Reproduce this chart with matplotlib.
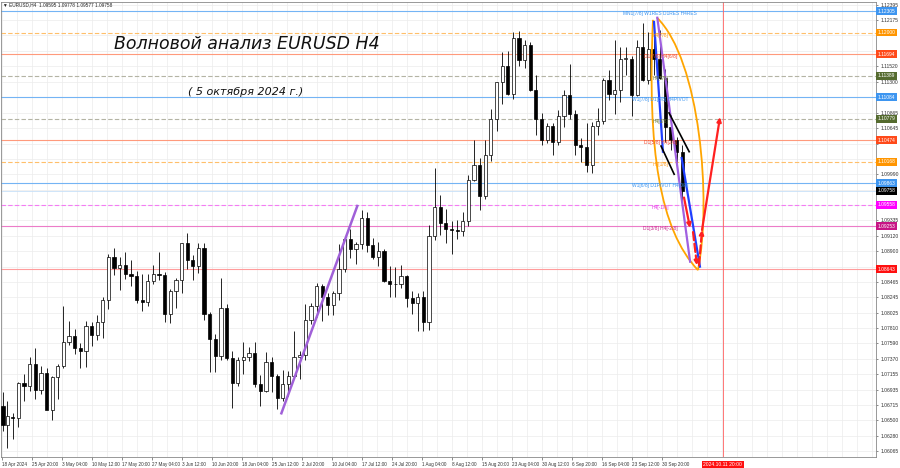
import matplotlib
matplotlib.use("Agg")
import matplotlib.pyplot as plt
from matplotlib.path import Path
from matplotlib.patches import PathPatch
import matplotlib.transforms as mtransforms

# EURUSD daily OHLC, 18 Apr 2024 .. 4 Oct 2024 (122 trading days, drawn on the H4 bar scale)
opens = [1.0670, 1.0643, 1.0655, 1.0654, 1.0703, 1.0698, 1.0730, 1.0693, 1.0717,
         1.0665, 1.0711, 1.0727, 1.0761, 1.0770, 1.0753, 1.0748, 1.0784, 1.0771, 1.0790, 1.0820,
         1.0882, 1.0866, 1.0870, 1.0858, 1.0855, 1.0821, 1.0818, 1.0847, 1.0857, 1.0856, 1.0801, 1.0833,
         1.0849, 1.0902, 1.0878, 1.0869, 1.0894, 1.0801, 1.0765, 1.0741, 1.0809, 1.0739,
         1.0703, 1.0735, 1.0740, 1.0746, 1.0701, 1.0692, 1.0733, 1.0713, 1.0682, 1.0702,
         1.0713, 1.0740, 1.0742, 1.0792, 1.0812, 1.0840, 1.0825, 1.0813, 1.0830, 1.0865, 1.0907, 1.0893,
         1.0900, 1.0937, 1.0898, 1.0882, 1.0890, 1.0847, 1.0843, 1.0844, 1.0855, 1.0823, 1.0816,
         1.0825, 1.0789, 1.0911, 1.0953, 1.0930, 1.0922, 1.0920, 1.0918, 1.0933, 1.0991, 1.1012,
         1.0968, 1.1027, 1.1077, 1.1130, 1.1152, 1.1113, 1.1192, 1.1161, 1.1182, 1.1118, 1.1077,
         1.1048, 1.1068, 1.1045, 1.1082, 1.1112, 1.1085, 1.1040, 1.1038, 1.1012, 1.1067, 1.1075,
         1.1133, 1.1113, 1.1118, 1.1163, 1.1163, 1.1111, 1.1180, 1.1133, 1.1177, 1.1163,
         1.1135, 1.1066, 1.1048, 1.1031]
highs = [1.0690, 1.0678, 1.0661, 1.0704, 1.0716, 1.0740, 1.0752, 1.0727, 1.0724,
         1.0713, 1.0730, 1.0812, 1.0791, 1.0779, 1.0760, 1.0791, 1.0790, 1.0800, 1.0825, 1.0886,
         1.0895, 1.0881, 1.0889, 1.0877, 1.0862, 1.0858, 1.0858, 1.0870, 1.0889, 1.0860, 1.0836, 1.0852,
         1.0901, 1.0916, 1.0884, 1.0902, 1.0901, 1.0803, 1.0773, 1.0852, 1.0815, 1.0748,
         1.0740, 1.0761, 1.0754, 1.0761, 1.0715, 1.0747, 1.0740, 1.0716, 1.0722, 1.0720,
         1.0776, 1.0749, 1.0815, 1.0816, 1.0845, 1.0844, 1.0830, 1.0834, 1.0900, 1.0909, 1.0922,
         1.0903, 1.0948, 1.0946, 1.0909, 1.0903, 1.0893, 1.0869, 1.0868, 1.0871, 1.0856, 1.0833,
         1.0830, 1.0833, 1.0927, 1.1008, 1.0969, 1.0950, 1.0932, 1.0934, 1.0945, 1.0998, 1.1047,
         1.1022, 1.1048, 1.1091, 1.1130, 1.1173, 1.1174, 1.1201, 1.1202, 1.1190, 1.1186, 1.1140,
         1.1086, 1.1072, 1.1071, 1.1090, 1.1118, 1.1155, 1.1090, 1.1050, 1.1072, 1.1073, 1.1093,
         1.1136, 1.1147, 1.1190, 1.1180, 1.1180, 1.1167, 1.1190, 1.1214, 1.1201, 1.1209,
         1.1204, 1.1148, 1.1083, 1.1052, 1.1040]
lows = [1.0635, 1.0611, 1.0623, 1.0640, 1.0677, 1.0692, 1.0680, 1.0688, 1.0666,
        1.0650, 1.0680, 1.0724, 1.0757, 1.0744, 1.0724, 1.0725, 1.0756, 1.0764, 1.0767, 1.0808,
        1.0856, 1.0835, 1.0850, 1.0840, 1.0817, 1.0805, 1.0812, 1.0843, 1.0849, 1.0789, 1.0788, 1.0810,
        1.0831, 1.0864, 1.0849, 1.0859, 1.0792, 1.0719, 1.0719, 1.0735, 1.0735, 1.0668,
        1.0698, 1.0716, 1.0734, 1.0697, 1.0671, 1.0690, 1.0690, 1.0666, 1.0678, 1.0685,
        1.0710, 1.0709, 1.0735, 1.0787, 1.0796, 1.0791, 1.0800, 1.0800, 1.0820, 1.0861, 1.0880,
        1.0872, 1.0893, 1.0889, 1.0879, 1.0869, 1.0846, 1.0825, 1.0825, 1.0838, 1.0811, 1.0801,
        1.0777, 1.0777, 1.0778, 1.0906, 1.0913, 1.0902, 1.0886, 1.0907, 1.0912, 1.0925, 1.0990,
        1.0949, 1.0964, 1.1018, 1.1060, 1.1098, 1.1111, 1.1106, 1.1152, 1.1150, 1.1117, 1.1054,
        1.1040, 1.1043, 1.1026, 1.1040, 1.1066, 1.1078, 1.1027, 1.1017, 1.1002, 1.1001, 1.1055,
        1.1070, 1.1104, 1.1084, 1.1102, 1.1140, 1.1082, 1.1110, 1.1131, 1.1127, 1.1140,
        1.1134, 1.1045, 1.1033, 1.1005, 1.0950]
closes = [1.0643, 1.0656, 1.0654, 1.0703, 1.0698, 1.0730, 1.0693, 1.0717, 1.0665,
          1.0711, 1.0727, 1.0761, 1.0770, 1.0753, 1.0748, 1.0784, 1.0771, 1.0790, 1.0820, 1.0882,
          1.0866, 1.0870, 1.0858, 1.0855, 1.0821, 1.0818, 1.0847, 1.0857, 1.0856, 1.0801, 1.0833, 1.0849,
          1.0902, 1.0878, 1.0869, 1.0894, 1.0801, 1.0765, 1.0741, 1.0809, 1.0739, 1.0703,
          1.0735, 1.0740, 1.0746, 1.0701, 1.0692, 1.0733, 1.0713, 1.0682, 1.0702, 1.0713,
          1.0740, 1.0742, 1.0792, 1.0812, 1.0840, 1.0825, 1.0813, 1.0830, 1.0865, 1.0907, 1.0893,
          1.0900, 1.0937, 1.0898, 1.0882, 1.0890, 1.0847, 1.0843, 1.0844, 1.0855, 1.0823, 1.0816,
          1.0825, 1.0789, 1.0911, 1.0953, 1.0930, 1.0922, 1.0920, 1.0918, 1.0933, 1.0991, 1.1012,
          1.0968, 1.1027, 1.1077, 1.1130, 1.1152, 1.1113, 1.1192, 1.1161, 1.1182, 1.1118, 1.1077,
          1.1048, 1.1068, 1.1045, 1.1082, 1.1112, 1.1085, 1.1040, 1.1038, 1.1012, 1.1067, 1.1075,
          1.1133, 1.1113, 1.1118, 1.1163, 1.1163, 1.1111, 1.1180, 1.1133, 1.1177, 1.1163,
          1.1135, 1.1066, 1.1048, 1.1031, 1.0975]

# x axis labels (every 32 H4 bars)
date_labels = ["18 Apr 2024", "25 Apr 20:00", "3 May 04:00", "10 May 12:00", "17 May 20:00",
               "27 May 04:00", "3 Jun 12:00", "10 Jun 20:00", "18 Jun 04:00", "25 Jun 12:00",
               "2 Jul 20:00", "10 Jul 04:00", "17 Jul 12:00", "24 Jul 20:00", "1 Aug 04:00",
               "8 Aug 12:00", "15 Aug 20:00", "23 Aug 04:00", "30 Aug 12:00", "6 Sep 20:00",
               "16 Sep 04:00", "23 Sep 12:00", "30 Sep 20:00"]
y_ticks = [1.12395, 1.12175, 1.11960, 1.11740, 1.11520, 1.11300, 1.11080, 1.10865, 1.10645,
           1.10425, 1.10205, 1.09990, 1.09770, 1.09550, 1.09335, 1.09120, 1.08900, 1.08680,
           1.08465, 1.08245, 1.08025, 1.07810, 1.07590, 1.07370, 1.07155, 1.06935, 1.06715,
           1.06500, 1.06280, 1.06065]

# Murrey-style levels
level_prices = [1.12305, 1.12000, 1.11694, 1.11389, 1.11084, 1.10779, 1.10474, 1.10168,
                1.09863, 1.09558, 1.09253, 1.08643]
level_names = ["MN1[7/8] W1RES D1RES H4RES", "H4[7/8]", "D1[7/8] H4[6/8]", "H4[5/8]",
               "W1[7/8] D1[6/8] H4PIVOT", "H4[3/8]", "D1[5/8] H4[2/8]", "H4[1/8]",
               "W1[6/8] D1PIVOT H4[0/8]", "H4[-1/8]", "D1[3/8] H4[-2/8]", ""]
level_line_col = ["#74b4f4", "#ffbf6a", "#ff9a7c", "#b4b4a4", "#74b4f4", "#b4b4a4", "#ff9a7c",
                  "#ffbf6a", "#74b4f4", "#f47cf4", "#ec7cc8", "#ff9c9c"]
level_style = ["-", "--", "-", "--", "-", "--", "-", "--", "-", "--", "-", "-"]
level_text_col = ["#3d95f0", "#ff9d1a", "#f0452a", "#6b7a3a", "#3d95f0", "#6b7a3a", "#f0452a",
                  "#ff9d1a", "#3d95f0", "#e633e6", "#c8288c", "#ff0000"]
level_box_col = ["#3d95f0", "#ff9500", "#ff4a1a", "#556b2f", "#3d95f0", "#556b2f", "#ff4a1a",
                 "#ff9500", "#3d95f0", "#ff00ff", "#c71585", "#ff1010"]
last_price = 1.09758

# analyst drawings, (H4 bar index, price)
trend_x = [298, 379]
trend_y = [1.0660, 1.0954]
purple_x = [699, 734]
purple_y = [1.1221, 1.0875]
blue1_x = [695.5, 705]
blue1_y = [1.1215, 1.1031]
blue2_x = [725, 744.5]
blue2_y = [1.1022, 1.0868]
black1_x = [711.5, 733]
black1_y = [1.1086, 1.1031]
black2_x = [703, 717]
black2_y = [1.1039, 1.0999]
arc_left = [(694.4, 1.1218), (688.0, 1.1033), (701.9, 1.0920), (742.4, 1.0863)]
arc_right = [(698.7, 1.1221), (744.5, 1.1161), (757.3, 1.0963), (742.4, 1.0863)]
red_down = [(727.5, 1.0966), (733.9, 1.0923)]
red_dash_down = [(737.1, 1.0917), (741.3, 1.0870)]
red_dash_up = [(743.5, 1.0870), (746.7, 1.0920)]
red_up = [(746.7, 1.0920), (765.9, 1.1080)]
future_bar = 769

SMALL = "Liberation Sans"

fig = plt.figure(figsize=(9, 4.68), dpi=100)
ax = fig.add_axes([1 / 900, 11 / 468, 875 / 900, 455 / 468])
ax.set_xlim(-1.1, 932.3)
ax.set_ylim(1.05980, 1.12433)

# grid / axes
ax.set_xticks([32 * i for i in range(len(date_labels))])
ax.set_xticklabels(date_labels, fontfamily=SMALL)
ax.set_xticks([16 * i for i in range(59)], minor=True)
ax.set_yticks(y_ticks)
boxes = level_prices + [last_price]
ax.set_yticklabels(["" if min(abs(v - b) for b in boxes) < 0.0006 else f"{v:.5f}" for v in y_ticks],
                   fontfamily=SMALL)
ax.grid(True, which="both", color="#ececec", lw=0.5)
ax.set_axisbelow(True)
ax.yaxis.tick_right()
ax.tick_params(axis="y", length=1.5, pad=1.5, labelsize=3.6, colors="#333333", width=0.4)
ax.tick_params(axis="x", which="major", length=2, pad=1.5, labelsize=3.3, colors="#333333", width=0.4)
ax.tick_params(axis="x", which="minor", length=0)
for lbl in ax.get_xticklabels():
    lbl.set_ha("left")
for sp in ax.spines.values():
    sp.set_color("#888888")
    sp.set_linewidth(0.6)

# levels
for p, c, ls in zip(level_prices, level_line_col, level_style):
    if ls == "--":
        ax.axhline(p, color=c, ls=ls, lw=0.8, zorder=1, dashes=(4, 2))
    else:
        ax.axhline(p, color=c, ls=ls, lw=0.8, zorder=1)
ax.axhline(last_price, color="#c8e0f8", lw=0.6, zorder=1)
for p, n, c in zip(level_prices, level_names, level_text_col):
    if n:
        ax.text(702, p, n, color=c, fontsize=3.5, fontfamily=SMALL, ha="center", va="top", zorder=6)

# candles
xs = [1] + [6 * d - 0.5 for d in range(1, len(closes))]
ax.vlines(xs, lows, highs, color="black", lw=0.6, zorder=3)
for x, o, c in zip(xs, opens, closes):
    bull = c >= o
    ax.bar(x, max(abs(c - o), 0.00008), bottom=min(o, c), width=3.4,
           color="white" if bull else "black", edgecolor="black", lw=0.5, zorder=4)

# drawings
ax.plot(trend_x, trend_y, color="#a060d8", lw=1.8, zorder=5)
for pts in (arc_left, arc_right):
    path = Path(pts, [Path.MOVETO, Path.CURVE4, Path.CURVE4, Path.CURVE4])
    ax.add_patch(PathPatch(path, fc="none", ec="#ffa500", lw=1.3, zorder=5))
ax.plot(purple_x, purple_y, color="#a060e0", lw=1.6, zorder=5)
ax.plot(blue1_x, blue1_y, color="#1f3fff", lw=1.6, zorder=5)
ax.plot(blue2_x, blue2_y, color="#1f3fff", lw=1.6, zorder=5)
ax.plot(black1_x, black1_y, color="black", lw=1.2, zorder=5)
ax.plot(black2_x, black2_y, color="black", lw=1.2, zorder=5)
for seg, ls in ((red_down, "-"), (red_dash_down, "--"), (red_dash_up, "--"), (red_up, "-")):
    ax.annotate("", xy=seg[1], xytext=seg[0], zorder=6,
                arrowprops=dict(arrowstyle="-|>", color="#ff2020", lw=1.6, ls=ls,
                                mutation_scale=6, shrinkA=0, shrinkB=0))
ax.axvline(future_bar, color="#ff6060", lw=0.6, zorder=2)

# price boxes on the right scale
tr = mtransforms.blended_transform_factory(ax.transAxes, ax.transData)
for p, c in zip(level_prices, level_box_col):
    ax.text(1.002, p, f"{p:.5f}", transform=tr, color="white", fontsize=3.5, fontfamily=SMALL,
            ha="left", va="center", zorder=10, clip_on=False,
            bbox=dict(boxstyle="square,pad=0.3", fc=c, ec="none"))
ax.text(1.002, last_price, f"{last_price:.5f}", transform=tr, color="white", fontsize=3.5,
        fontfamily=SMALL, ha="left", va="center", zorder=10, clip_on=False,
        bbox=dict(boxstyle="square,pad=0.3", fc="black", ec="none"))

trx = mtransforms.blended_transform_factory(ax.transData, ax.transAxes)
ax.text(future_bar, -0.0165, "2024.10.11 20:00", transform=trx, color="white", fontsize=3.6,
        fontfamily=SMALL, ha="center", va="center", clip_on=False, zorder=10,
        bbox=dict(boxstyle="square,pad=0.3", fc="#ff1010", ec="none"))

# texts
fig.text(3 / 900, 1 - 5 / 468, "\u25bc EURUSD,H4  1.09595 1.09778 1.09577 1.09758", fontsize=3.4,
         fontfamily=["Liberation Sans", "DejaVu Sans"], va="center", color="#222222")
fig.text(247 / 900, 1 - 44 / 468, "Волновой анализ EURUSD H4", fontsize=12.5, style="italic",
         ha="center", va="center", color="#111111")
fig.text(246 / 900, 1 - 92 / 468, "( 5 октября 2024 г.)", fontsize=8, style="italic",
         ha="center", va="center", color="#111111")

fig.savefig("out.png", dpi=100)
